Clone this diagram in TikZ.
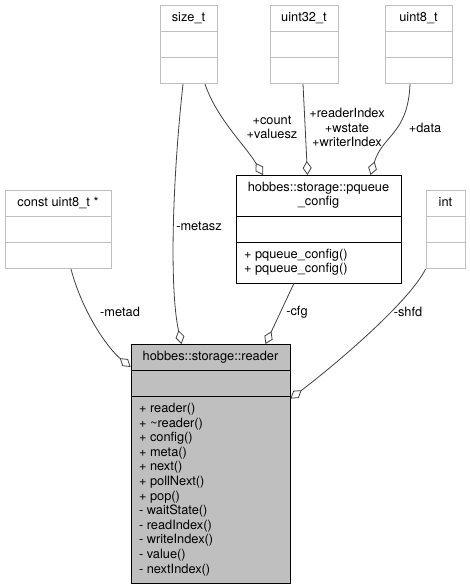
\documentclass[tikz,border=0pt]{standalone}
\usepackage{fontspec}
\setmainfont{TeX Gyre Heros}
\usetikzlibrary{shapes.multipart,arrows.meta}
\definecolor{boxgray}{HTML}{BFBFBF}
\definecolor{linegray}{HTML}{404040}
\tikzset{
  cls/.style={rectangle split, rectangle split parts=3, draw=boxgray, line width=0.8pt,
    inner xsep=8pt, inner ysep=5.35pt, anchor=north, font=\fontsize{12.8}{14.6}\selectfont},
  aggr/.style={draw=linegray, line width=0.8pt, -{Diamond[open,length=14pt,width=9pt]}},
  lbl/.style={font=\fontsize{12.8}{14.6}\selectfont, align=center, inner sep=0pt}
}
\begin{document}
\begin{tikzpicture}[x=1pt, y=-1pt]
\useasboundingbox (0,0) rectangle (470,588);
\node[cls, minimum width=57pt] (sizet) at (188.5,5) {\strut size\_t\nodepart{two}\strut\nodepart{three}\strut};
\node[cls, minimum width=68pt] (u32) at (304,5) {\strut uint32\_t\nodepart{two}\strut\nodepart{three}\strut};
\node[cls, minimum width=67pt] (u8) at (418.5,5) {\strut uint8\_t\nodepart{two}\strut\nodepart{three}\strut};
\node[cls, minimum width=106pt] (cu8) at (58,190) {\strut const uint8\_t *\nodepart{two}\strut\nodepart{three}\strut};
\node[cls, minimum width=39pt] (int) at (445.5,190) {\strut int\nodepart{two}\strut\nodepart{three}\strut};
\node[cls, draw=black, minimum width=165pt, rectangle split part align={center,left,left}] (cfg) at (318.5,175)
  {\begin{tabular}{@{}c@{}}hobbes::storage::pqueue\\\_config\end{tabular}\nodepart{two}\strut
   \nodepart{three}\begin{tabular}{@{}l@{}}+ pqueue\_config()\\+ pqueue\_config()\end{tabular}};
\node[cls, draw=black, fill=boxgray, minimum width=159pt, rectangle split part align={center,left,left}] (reader) at (210.5,344)
  {\strut hobbes::storage::reader\nodepart{two}\strut
   \nodepart{three}\begin{tabular}{@{}l@{}}+ reader()\\+ \textasciitilde reader()\\+ config()\\+ meta()\\+ next()\\+ pollNext()\\+ pop()\\- waitState()\\- readIndex()\\- writeIndex()\\- value()\\- nextIndex()\end{tabular}};
\draw[aggr] ([xshift=-5.5pt]sizet.south) .. controls +(-11,100) and +(-12,-54) .. ([xshift=-29pt]reader.north);
\draw[aggr] ([xshift=16.5pt]sizet.south) .. controls +(12,35) and +(-18,-30) .. ([xshift=-55.5pt]cfg.north);
\draw[aggr] ([xshift=-1pt]u32.south) -- ([xshift=-11pt]cfg.north);
\draw[aggr] ([xshift=-8.5pt]u8.south) .. controls +(-2,50) and +(12,-40) .. ([xshift=52pt]cfg.north);
\draw[aggr] ([xshift=13pt]cu8.south) .. controls +(12,45) and +(-22,-18) .. ([yshift=-23pt]reader.north west);
\draw[aggr] ([xshift=-24.5pt]cfg.south) -- ([xshift=55pt]reader.north);
\draw[aggr] (int.south west) .. controls +(-18,35) and +(40,-30) .. ([yshift=-2pt]reader.two split east);
\node[lbl] (metaszlbl) at (199,226) {-metasz};
\node[lbl] (countlbl) at (272,127.5) {+count\\+valuesz};
\node[lbl] (indexlbl) at (347,127.5) {+readerIndex\\+wstate\\+writerIndex};
\node[lbl] (datalbl) at (425,128) {+data};
\node[lbl] (metadlbl) at (120,312) {-metad};
\node[lbl] (cfglbl) at (297,312) {-cfg};
\node[lbl] (shfdlbl) at (408,312) {-shfd};
\end{tikzpicture}
\end{document}
